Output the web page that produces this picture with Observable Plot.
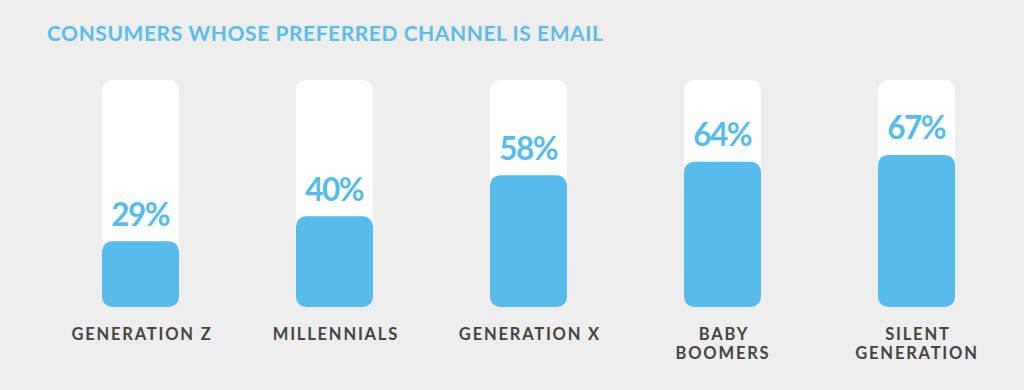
<!DOCTYPE html>
<html>
<head>
<meta charset="utf-8">
<script src="https://cdn.jsdelivr.net/npm/d3@7"></script>
<script src="https://cdn.jsdelivr.net/npm/@observablehq/plot@0.6"></script>
<style>
  html, body { margin: 0; padding: 0; background: #eeeeee; }
  #wrap { position: relative; width: 1024px; height: 390px; overflow: hidden; background: #eeeeee; }
  #title { position: absolute; left: 47px; top: 22px; font-family: Lato, "Noto Sans", sans-serif; font-weight: 700; font-size: 21px; line-height: 21px; color: #5bbde9; letter-spacing: 0.55px; white-space: nowrap; }
  #chart { position: absolute; left: 0; top: 60px; }
</style>
</head>
<body>
<div id="wrap">
  <div id="title">CONSUMERS WHOSE PREFERRED CHANNEL IS EMAIL</div>
  <div id="chart"></div>
</div>
<script>
const categories = ["Generation Z", "Millennials", "Generation X", "Baby Boomers", "Silent Generation"];
const tickLabels = ["GENERATION Z", "MILLENNIALS", "GENERATION X", "BABY\nBOOMERS", "SILENT\nGENERATION"];
const values = [29, 40, 58, 64, 67];
const maxValue = 100;

const rows = categories.map((c, i) => ({cat: c, label: tickLabels[i], value: values[i], full: maxValue}));

const blue = "#57bceb";

const chart = Plot.plot({
  width: 1024,
  height: 330,
  marginLeft: 101,
  marginRight: 69,
  marginTop: 20,
  marginBottom: 83,
  style: {background: "transparent", fontFamily: "Lato, 'Noto Sans', sans-serif", overflow: "visible"},
  x: {domain: categories, paddingInner: 0.6036, paddingOuter: 0, axis: null},
  y: {domain: [0, 100], axis: null},
  marks: [
    Plot.barY(rows, {x: "cat", y: "full", fill: "#ffffff", rx: 10}),
    Plot.barY(rows, {x: "cat", y: "value", fill: blue, rx: 10}),
    Plot.text(rows, {x: "cat", y: "value", text: d => d.value + "%", dy: -16, lineAnchor: "bottom", fill: blue, fontSize: 31.5, fontWeight: 700}),
    Plot.text(rows, {x: "cat", y: 0, text: "label", dy: 19, lineAnchor: "top", lineHeight: 1.15, fill: "#444444", fontSize: 16.5, fontWeight: 700})
  ]
});

document.getElementById("chart").appendChild(chart);
d3.select(chart).selectAll("text").each(function () {
  const t = this.textContent || "";
  if (t.endsWith("%")) {
    d3.select(this).style("letter-spacing", "-1.5px").attr("dx", -0.75);
  } else {
    d3.select(this).style("letter-spacing", "1.8px").attr("dx", 0.9);
  }
});
</script>
</body>
</html>
